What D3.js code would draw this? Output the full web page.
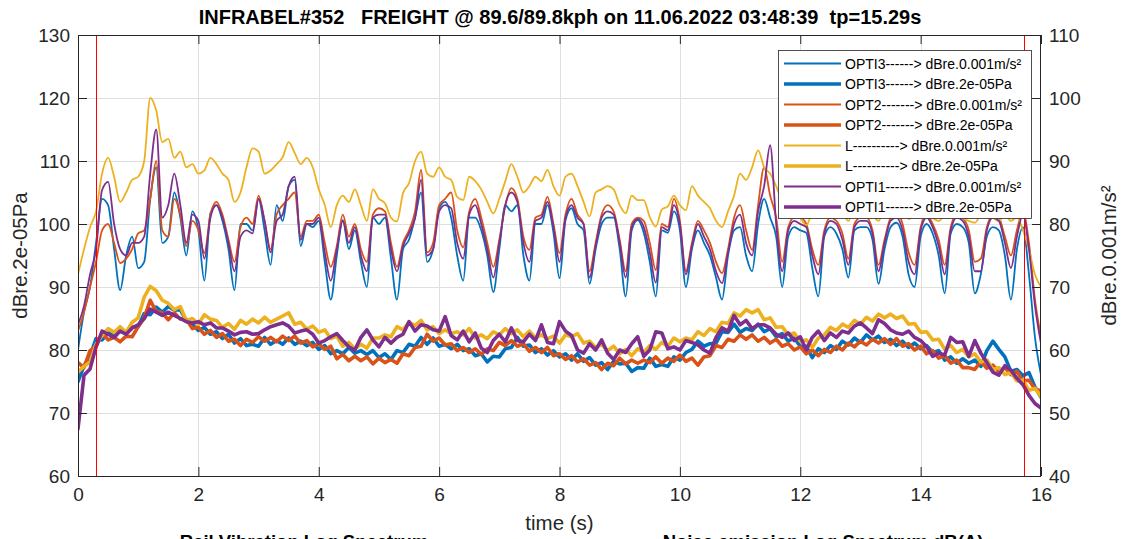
<!DOCTYPE html>
<html><head><meta charset="utf-8">
<script src="https://cdn.jsdelivr.net/npm/d3@7"></script>
<style>
body{margin:0;background:#fff}
svg{display:block}
text{font-family:"Liberation Sans",Arial,Helvetica,sans-serif}
</style>
</head><body>
<svg id="chart" width="1124" height="539"></svg>
<script>
const titleText = "INFRABEL#352   FREIGHT @ 89.6/89.8kph on 11.06.2022 03:48:39  tp=15.29s";
const xLabel = "time (s)";
const leftLabel = "dBre.2e-05Pa";
const rightLabel = "dBre.0.001m/s²";
const subTitles = ["Rail Vibration Log Spectrum", "Noise emission Log Spectrum dB(A)"];

const xTicks = [0,2,4,6,8,10,12,14,16];
const leftTicks = [60,70,80,90,100,110,120,130];
const rightTicks = [40,50,60,70,80,90,100,110];
const markerTimes = [0.3, 15.71];

const time = [
0,0.1,0.2,0.3,0.4,0.5,0.6,0.7,0.8,0.9,
1,1.1,1.2,1.3,1.4,1.5,1.6,1.7,1.8,1.9,
2,2.1,2.2,2.3,2.4,2.5,2.6,2.7,2.8,2.9,
3,3.1,3.2,3.3,3.4,3.5,3.6,3.7,3.8,3.9,
4,4.1,4.2,4.3,4.4,4.5,4.6,4.7,4.8,4.9,
5,5.1,5.2,5.3,5.4,5.5,5.6,5.7,5.8,5.9,
6,6.1,6.2,6.3,6.4,6.5,6.6,6.7,6.8,6.9,
7,7.1,7.2,7.3,7.4,7.5,7.6,7.7,7.8,7.9,
8,8.1,8.2,8.3,8.4,8.5,8.6,8.7,8.8,8.9,
9,9.1,9.2,9.3,9.4,9.5,9.6,9.7,9.8,9.9,
10,10.1,10.2,10.3,10.4,10.5,10.6,10.7,10.8,10.9,
11,11.1,11.2,11.3,11.4,11.5,11.6,11.7,11.8,11.9,
12,12.1,12.2,12.3,12.4,12.5,12.6,12.7,12.8,12.9,
13,13.1,13.2,13.3,13.4,13.5,13.6,13.7,13.8,13.9,
14,14.1,14.2,14.3,14.4,14.5,14.6,14.7,14.8,14.9,
15,15.1,15.2,15.3,15.4,15.5,15.6,15.7,15.8,15.9,
16];

// OPTI3 vibration, dBre.0.001m/s² (right axis)
const opti3Acc = [
60,66,70,77,84,83,76,69.5,75,78,
73,74,84,89,77,78,85,81,75,82,
79,71,81.7,83,80.5,76,69.5,80,80,79,
84,79,73.5,83,80.5,86,87,76.5,80,79.5,
80.5,74,68,75,80.6,76,79,74,70,81,
80,81,74.5,68,76,77.5,81,85,74,76,
82.5,83.5,81,75,71,81,81,79,75,69.2,
76,83,82,83,75,71,80,80,83,78.6,
71.4,80.6,82.5,80,79,70.5,76,80,81,81,
76,68.5,79,80.6,78.6,74,68.5,79,78.6,82,
79,70,76,79,77,75,71.5,68,75,79,
79.5,75,72.5,80,84,81,78,70,78,79.5,
79,78.6,73,68.5,78,79.5,78.5,76,71.5,79,
79.5,79.5,77.5,70.5,76,79.5,80.2,78,72,70,
78,80,78.5,75,69,78.5,80,79.5,77,69,
72,78,79.5,79,75,68,76,79.5,72,62,
56];

// OPTI3 noise, dBre.2e-05Pa (left axis)
const opti3Snd = [
75,77.5,79,81.8,81.6,82.7,82.3,83,82.6,83.6,
83.7,85.8,85.6,86.8,86,86.9,86.3,86.4,84.6,84.1,
83.1,83.6,82.5,82.9,81.8,82.5,81.1,81.8,80.7,80.9,
80.6,82,80.9,81.5,80.9,81.9,80.9,81.4,80.7,81.2,
80.1,80.7,79.4,79.9,79.4,80.4,79.5,79.9,79.3,79.9,
78.8,79.4,78.5,79.9,79.6,80.9,80.6,82,80.9,81.9,
80.6,80.9,80.2,80.9,79.9,80.2,79.1,79.4,78.1,79,
78.9,80.2,80.4,82,80.6,80.8,79.6,80.2,79.2,79.9,
78.9,79.4,78.4,79.4,78.2,78.8,77.6,78,76.9,78.2,
77.8,77.9,76.6,77.2,77.1,78.7,77.4,77.7,77.4,78.9,
78.4,79.6,80.1,81.4,80.6,81,81.1,82.9,82.8,84.1,
82.8,83.4,83.1,84.1,82.9,83.4,82.1,82.6,81.4,81.9,
80.6,80.6,78.8,80.2,79.6,80.7,80.1,81.4,80.8,81.9,
81.2,82.4,81.6,82.2,81.2,81.7,80.7,81.4,80.4,81.1,
80.2,80.7,79.6,79.9,78.4,78.9,77.9,78.6,77.9,78.4,
77.4,79.9,81.4,80.1,78.9,76.6,76.9,75.9,76.4,74.1,
72.5];

// OPT2 vibration (right axis)
const opt2Acc = [
63,66,70,74,79,80,77,73.8,74.5,76,
78.5,79,84,90,79,78,84,81.5,76.5,80.5,
79,75.4,81.5,83.5,81.5,77.5,74,79.5,81,80,
84.5,80.5,76,81.5,83,84,85,78,80.5,80.5,
81.5,77,73.2,76.5,81.5,78,80,76,74,81.5,
82.5,82,77,73.2,77,79,82,88.6,75.5,77,
83,84,85,79,76.3,82,84,81,77,73.2,
77.5,83,85.7,84,78,75.9,81,81.5,84.3,80,
75.4,81.5,84,81.5,80,72.5,77,81.5,83,82,
77.5,72.5,80,81,80.5,77,72.7,80,79.5,84,
80.5,72.5,77,80.5,79,77,74,72.2,76,81,
83,79,75.9,83,89,84.5,81,74,79.5,81,
81,80,76,73.5,79,81,80.5,78.5,74.5,80,
81,81,79,73.5,77.5,81,82,80,75.5,73.5,
79.5,81.5,80,77.5,73.5,79.5,81.5,81,79,74,
74.5,79.5,81.5,81,78,75,79,82,77,68,
62];

// OPT2 noise (left axis)
const opt2Snd = [
78,77.2,79.9,80.6,82.7,81.6,82,81.3,82.2,82.1,
83.7,85.1,87.9,86.1,85.9,84.8,85.9,84.9,84.9,83.4,
83.6,82.5,83.1,82,82.6,81.4,81.7,80.7,81.7,81.2,
82.1,81.4,82,81.3,82.2,81.5,82.2,81.1,81.5,80.5,
81,80.1,80.6,78.6,79.3,78.3,79,78.3,78.9,77.8,
78.7,78,78.5,77.9,79.4,79.1,80.4,80.6,82.5,81.4,
81.9,80.8,81,79.9,80.4,79.6,80.2,79.3,80.2,79.9,
81.2,80.7,81.5,80.6,81,79.8,80.4,79.6,80.4,79.1,
79.4,78.5,79.1,78.1,78.6,77.6,78,76.9,77.9,77.5,
78.7,77.8,78.4,77.9,78.4,78,78.9,77.9,78.7,78.2,
79.2,78.2,78.7,77.6,78.9,79.1,80.7,80.4,81.7,81.4,
82.4,81.7,82.4,81.4,82,81.1,81.7,80.6,81,80,
80.5,79.4,80,79.1,80.1,79.6,80.6,80,81.1,80.5,
81.4,80.8,81.7,81.1,81.8,80.9,81.8,80.6,81,80,
80.6,79.4,79.9,78.7,79.1,77.9,78.4,77.2,77.2,76.9,
78.2,77.1,77.6,76.6,77.2,76.1,76.6,75.1,75.2,73.8,
73.5];

// L vibration (right axis)
const lAcc = [
72,76,79.5,82,88,90.5,87.5,83.5,85,87,
87.5,90,100,98,93,93.5,90.5,91.5,89,89.5,
88,88.5,90.5,89.5,88,87,83.5,85,89,92,
91.5,88,88.5,89.5,90.6,93,91.3,89.5,90.5,89,
85.5,83,79.5,83,84.5,83.5,85.5,83,80.5,85.5,
84,83.3,81,80.4,84.9,86.5,90,91.5,88,87.5,
89,87.5,87,84.3,83.8,87.5,86.8,85.5,83.5,81.7,
84,86.8,89.5,87.5,85,86,87.5,86.8,88.6,86,
84.5,87.5,88,86,83.5,81.2,85,85.5,86,85.5,
83,81.7,84.5,83.8,83.8,81.1,79.6,82.3,82.8,84.5,
83,82.2,86,84.5,83.5,82.5,80.5,79.5,82,84.5,
88,87,89,91.7,89,88,86,84,85,83,
81,79.8,82,84,85,83.5,84.5,82,80.5,83,
84.5,82.5,81.5,80.5,82.5,83.5,81.5,82,80.8,81.5,
83,82,81,80.5,81.5,83,82,81,80.5,80.2,
81.5,82,81,80.5,81.5,80.5,81,79,76,72,
70];

// L noise (left axis)
const lSnd = [
76.5,77.4,78.1,80.9,82.3,83.4,82.8,83.7,82.8,84.4,
85.1,88.4,90.1,89.4,87.9,87.4,86.4,86.9,84.6,85,
84.1,85.6,84.9,84.7,83.6,84.2,83.3,84.7,84.1,84.9,
84.3,85.2,84.4,84.9,85.4,85.9,84.1,84.4,83.3,83.8,
82.8,83.2,81.8,82.2,80.6,81.2,80.2,80.9,80.3,81.9,
81.9,82.4,82.1,83.7,83.2,84.4,83.9,84.7,83.2,83.7,
82.6,83.2,82.6,82.9,82.4,83.4,81.9,82.4,81.8,82.9,
82.4,83.4,82.6,83.2,82.1,83,81.9,82.4,81.8,82.2,
81.1,82.4,82.1,82.6,81.1,81.4,80.4,80.9,79.9,80.6,
79.4,80.1,79.1,80.2,79.6,80.7,80.1,81.2,80.6,81.9,
81.3,81.9,81.6,82.9,82.3,83.4,82.9,84.4,84.2,85.9,
85.4,86.4,85.9,86.4,84.8,85.1,83.6,83.7,82.4,82.7,
81.4,81.6,80.4,81.9,82.4,83.6,83.1,84.1,83.6,84.7,
84.1,85.2,84.6,85.7,85.1,85.7,85,85.4,84.1,84.2,
82.8,82.9,81.6,81.7,80.1,80.7,79.6,80.1,78.9,79.4,
78.1,78.4,76.9,77.2,76.1,76.4,75.1,75.2,73.6,73.9,
72.6];

// OPTI1 vibration (right axis)
const opti1Acc = [
64,67,72,76,85.4,86.7,80,76,75,77,
77,78,88,95,81,83,88,83,77,81.5,
80.5,74.5,81,83,81,77,72.5,78,79,78.5,
84,80.5,75.5,80.5,81.5,86,87.5,77.5,80,80,
81,75.5,71,76,80.5,77,79.5,75,72.5,81,
81.5,81.5,76,72.5,76.5,78.5,81,87,75,76,
82,83,82.5,77,74.5,81.5,83,80,76,71.5,
77,83,85,83.5,77,74,80.5,81,83.5,79.5,
74,81,83,81,80,71.5,76.5,81,82,81.5,
77,71.5,79.5,80.8,79.5,75.5,70.7,79.5,79,83,
80,72,76.5,80,78,76,72.5,70.6,75.5,80,
81.5,77,75,82,86,92.5,80,72.5,79,80.5,
80,79.5,75,72,78.5,80.5,80,77.5,73.5,79.5,
80.5,80.5,78.5,72.5,77,80.5,81,79,74,72,
79,81,79.5,76.5,72,79,81,80.5,78,72.5,
72.5,79,81,80.5,77,73,78,81.5,76,67,
61];

// OPTI1 noise (left axis)
const opti1Snd = [
67.5,76,77,80.5,83,82.5,82,83,82.5,83.5,
84,85,86.5,86,85.5,86,85.5,85,84.5,84.3,
84.5,84,84.3,83.5,83.5,83,82.4,82.8,82.9,82.5,
82.6,83.2,83.7,84,84.3,83.8,82.7,83,83.2,82.5,
81.1,81.5,82.1,82.6,81.5,80.5,80,82,83.2,81.6,
80.5,82,81.1,82,82.5,84.5,83,84,83.8,83.2,
83,85.3,82.3,81.6,83,81.3,82.7,80.3,79.6,81.5,
82.5,81.3,83.5,81.5,81.3,82.5,81.5,84,81.2,81,
84.5,83,82.3,80,79.5,81,80,81.6,79.5,78.5,
80,79.6,81,82.1,79,80,82.9,82.7,80.2,80.5,
80,81.5,81.2,80.8,80,79.5,82,83.5,83,85.5,
84,84.7,83.4,84,84,83.5,82.5,82,82.7,81.5,
82.1,80,82,83,81.5,82.7,82,83,82.7,83.8,
84.3,83.5,82.6,84.8,84.2,83.2,82.7,82.5,83,82,
81.5,80.5,79,79.5,79.2,82,81.2,81.3,79,81.5,
79.5,78,76.5,76,77.5,76.8,75.5,74.5,72.8,71.5,
70.8];

const legendLabels = [
  "OPTI3------> dBre.0.001m/s²",
  "OPTI3------> dBre.2e-05Pa",
  "OPT2-------> dBre.0.001m/s²",
  "OPT2-------> dBre.2e-05Pa",
  "L----------> dBre.0.001m/s²",
  "L----------> dBre.2e-05Pa",
  "OPTI1------> dBre.0.001m/s²",
  "OPTI1------> dBre.2e-05Pa"
];
const colors = { blue:"#0072BD", orange:"#D95319", yellow:"#EDB120", purple:"#7E2F8E" };

const THIN = 1.8, THICK = 3.6;
const series = [
  {label: legendLabels[0], values: opti3Acc, axis: "right", color: colors.blue,   width: THIN},
  {label: legendLabels[1], values: opti3Snd, axis: "left",  color: colors.blue,   width: THICK},
  {label: legendLabels[2], values: opt2Acc,  axis: "right", color: colors.orange, width: THIN},
  {label: legendLabels[3], values: opt2Snd,  axis: "left",  color: colors.orange, width: THICK},
  {label: legendLabels[4], values: lAcc,     axis: "right", color: colors.yellow, width: THIN},
  {label: legendLabels[5], values: lSnd,     axis: "left",  color: colors.yellow, width: THICK},
  {label: legendLabels[6], values: opti1Acc, axis: "right", color: colors.purple, width: THIN},
  {label: legendLabels[7], values: opti1Snd, axis: "left",  color: colors.purple, width: THICK}
];

const P = {left: 78, right: 1041, top: 35, bottom: 476};
const AX = "#262626";
const svg = d3.select("#chart");

const x = d3.scaleLinear().domain([0, 16]).range([P.left, P.right]);
const yL = d3.scaleLinear().domain([60, 130]).range([P.bottom, P.top]);
const yR = d3.scaleLinear().domain([40, 110]).range([P.bottom, P.top]);

svg.append("rect").attr("x",0).attr("y",0).attr("width",1124).attr("height",539).attr("fill","#fff");

// grid
const grid = svg.append("g").attr("stroke", "#dfdfdf").attr("stroke-width", 1);
grid.selectAll(".gx").data(xTicks.slice(1, -1)).join("line")
  .attr("x1", d => Math.round(x(d)) + 0.5).attr("x2", d => Math.round(x(d)) + 0.5)
  .attr("y1", P.top).attr("y2", P.bottom);
grid.selectAll(".gy").data(leftTicks.slice(1, -1)).join("line")
  .attr("y1", d => Math.round(yL(d)) + 0.5).attr("y2", d => Math.round(yL(d)) + 0.5)
  .attr("x1", P.left).attr("x2", P.right);

// clip
svg.append("clipPath").attr("id", "plotclip").append("rect")
  .attr("x", P.left).attr("y", P.top).attr("width", P.right - P.left).attr("height", P.bottom - P.top);

const plot = svg.append("g").attr("clip-path", "url(#plotclip)");
series.forEach(s => {
  const ys = s.axis === "left" ? yL : yR;
  const line = d3.line()
    .curve(s.axis === "right" ? d3.curveMonotoneX : d3.curveLinear)
    .x((d, i) => x(time[i])).y(d => ys(d));
  plot.append("path").datum(s.values)
    .attr("d", line).attr("fill", "none")
    .attr("stroke", s.color).attr("stroke-width", s.width)
    .attr("stroke-linejoin", "round").attr("stroke-linecap", "round");
});

// red marker lines
plot.selectAll(".mk").data(markerTimes).join("line")
  .attr("x1", d => Math.round(x(d)) + 0.5).attr("x2", d => Math.round(x(d)) + 0.5)
  .attr("y1", P.top).attr("y2", P.bottom)
  .attr("stroke", "#ff0000").attr("stroke-width", 1);

// axes
function styleAxis(g, fs) {
  g.attr("font-size", null).attr("font-family", null);
  g.select(".domain").remove();
  g.selectAll(".tick line").attr("stroke", AX).attr("stroke-width", 1);
  g.selectAll(".tick text").attr("fill", AX).style("font-size", fs + "px");
}
const TK = 9;
const gB = svg.append("g").attr("transform", `translate(0,${P.bottom})`)
  .call(d3.axisBottom(x).tickValues(xTicks).tickSizeInner(-TK).tickSizeOuter(0).tickPadding(12).tickFormat(d3.format("d")));
styleAxis(gB, 19);
const gT = svg.append("g").attr("transform", `translate(0,${P.top})`)
  .call(d3.axisTop(x).tickValues(xTicks).tickSizeInner(-TK).tickSizeOuter(0).tickFormat(""));
styleAxis(gT, 19);
const gL = svg.append("g").attr("transform", `translate(${P.left},0)`)
  .call(d3.axisLeft(yL).tickValues(leftTicks).tickSizeInner(-TK).tickSizeOuter(0).tickPadding(8).tickFormat(d3.format("d")));
styleAxis(gL, 19);
const gR = svg.append("g").attr("transform", `translate(${P.right},0)`)
  .call(d3.axisRight(yR).tickValues(rightTicks).tickSizeInner(-TK).tickSizeOuter(0).tickPadding(8).tickFormat(d3.format("d")));
styleAxis(gR, 19);

// box
svg.append("rect").attr("x", P.left + 0.5).attr("y", P.top + 0.5)
  .attr("width", P.right - P.left - 1).attr("height", P.bottom - P.top)
  .attr("fill", "none").attr("stroke", AX).attr("stroke-width", 1);

// labels
svg.append("text").attr("x", 560).attr("y", 24).attr("text-anchor", "middle")
  .attr("xml:space", "preserve").style("white-space", "pre")
  .attr("font-weight", "bold").style("font-size", "20px").attr("fill", "#000").text(titleText);
svg.append("text").attr("x", (P.left + P.right) / 2).attr("y", 530).attr("text-anchor", "middle")
  .style("font-size", "20.5px").attr("fill", AX).text(xLabel);
svg.append("text").attr("transform", `translate(27,${(P.top + P.bottom) / 2}) rotate(-90)`)
  .attr("text-anchor", "middle").style("font-size", "20.5px").attr("fill", AX).text(leftLabel);
svg.append("text").attr("transform", `translate(1116,${(P.top + P.bottom) / 2}) rotate(-90)`)
  .attr("text-anchor", "middle").style("font-size", "20.5px").attr("fill", AX).text(rightLabel);

// subplot titles of the panels below, cut by the bottom edge as in the reference
svg.append("text").attr("x", 304).attr("y", 548).attr("text-anchor", "middle")
  .attr("font-weight", "bold").style("font-size", "18.5px").attr("fill", "#000").text(subTitles[0]);
svg.append("text").attr("x", 823).attr("y", 548).attr("text-anchor", "middle")
  .attr("font-weight", "bold").style("font-size", "18.5px").attr("fill", "#000").text(subTitles[1]);

// legend
const LG = {x: 778, y: 50, w: 253, h: 168, row: 20.5};
const lg = svg.append("g");
lg.append("rect").attr("x", LG.x + 0.5).attr("y", LG.y + 0.5).attr("width", LG.w).attr("height", LG.h)
  .attr("fill", "#fff").attr("stroke", AX).attr("stroke-width", 0.8);
series.forEach((s, i) => {
  const cy = LG.y + 13.5 + i * LG.row;
  lg.append("line").attr("x1", LG.x + 6).attr("x2", LG.x + 63).attr("y1", cy).attr("y2", cy)
    .attr("stroke", s.color).attr("stroke-width", s.width);
  lg.append("text").attr("x", LG.x + 67).attr("y", cy).attr("dy", "0.36em")
    .style("font-size", "14px").attr("fill", "#000").text(s.label);
});
</script>
</body></html>
